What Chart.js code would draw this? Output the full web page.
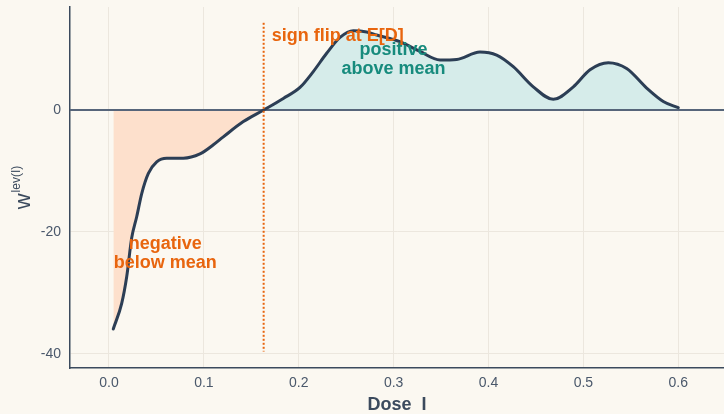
<!DOCTYPE html>
<html>
<head>
<meta charset="utf-8">
<script src="https://cdn.jsdelivr.net/npm/chart.js@4/dist/chart.umd.min.js"></script>
<style>
  html, body { margin: 0; padding: 0; background: #fbf8f1; }
  #wrap { width: 724px; height: 414px; }
</style>
</head>
<body>
<div id="wrap"><canvas id="chart" width="724" height="414"></canvas></div>
<script>
// Leverage weight w^lev(I) as a function of dose I
const dose = [0.0045, 0.0134, 0.0187, 0.0239, 0.0292, 0.0345, 0.0415, 0.0503, 0.0608, 0.0783,
              0.0959, 0.110, 0.1205, 0.1416, 0.163, 0.1837, 0.2013, 0.2153, 0.2294, 0.2435,
              0.2575, 0.2716, 0.2821, 0.3067, 0.3278, 0.3489, 0.3665, 0.391, 0.4086, 0.4261,
              0.4472, 0.4683, 0.4894, 0.507, 0.5263, 0.5456, 0.5667, 0.5842, 0.600];
const weight = [-35.9, -31.7, -27.3, -21.0, -17.5, -13.7, -10.4, -8.5, -7.9, -7.9,
                -7.2, -5.7, -4.4, -1.9, 0, 1.9, 3.7, 6.3, 9.3, 11.9,
                13.0, 12.8, 12.3, 11.2, 9.6, 8.2, 8.3, 9.5, 9.0, 7.1,
                3.8, 1.75, 3.8, 6.6, 7.75, 6.8, 3.6, 1.4, 0.38];

// Mean dose E[D], where the weight changes sign
const meanDose = 0.163;
const flipLineSpan = [-39.6, 14.3];

const xTicks = [0.0, 0.1, 0.2, 0.3, 0.4, 0.5, 0.6];
const yTicks = [-40, -20, 0];

const notes = [
  { lines: ['sign flip at E[D]'], x: 0.1715, y: 12.1, align: 'left', color: '#e8650e' },
  { lines: ['positive', 'above mean'], x: 0.2998, y: 8.25, align: 'center', color: '#178b7d' },
  { lines: ['negative', 'below mean'], x: 0.0594, y: -23.5, align: 'center', color: '#e8650e' }
];

const FONT = '"Liberation Sans", Arial, Helvetica, sans-serif';
const INK = '#3b4a5d';

const points = dose.map((d, i) => ({ x: d, y: weight[i] }));

const background = {
  id: 'background',
  beforeDraw(chart) {
    const c = chart.ctx;
    c.save();
    c.fillStyle = '#fbf8f1';
    c.fillRect(0, 0, chart.width, chart.height);
    c.restore();
  }
};

// zero reference line, drawn over the area fill and under the curve
const zeroLine = {
  id: 'zeroLine',
  beforeDatasetDraw(chart) {
    const c = chart.ctx, a = chart.chartArea;
    const y0 = chart.scales.y.getPixelForValue(0);
    c.save();
    c.strokeStyle = '#56657a';
    c.lineWidth = 2;
    c.beginPath();
    c.moveTo(a.left, y0);
    c.lineTo(a.right, y0);
    c.stroke();
    c.restore();
  }
};

const overlays = {
  id: 'overlays',
  afterDatasetsDraw(chart) {
    const c = chart.ctx, sx = chart.scales.x, sy = chart.scales.y;
    c.save();
    // dotted marker at the mean dose
    const xm = sx.getPixelForValue(meanDose);
    c.strokeStyle = '#e8650e';
    c.lineWidth = 2;
    c.setLineDash([2, 2]);
    c.beginPath();
    c.moveTo(xm, sy.getPixelForValue(flipLineSpan[1]));
    c.lineTo(xm, sy.getPixelForValue(flipLineSpan[0]));
    c.stroke();
    c.setLineDash([]);

    // text notes
    c.font = 'bold 18px ' + FONT;
    c.textBaseline = 'middle';
    notes.forEach(n => {
      const px = sx.getPixelForValue(n.x);
      const py = sy.getPixelForValue(n.y);
      const lh = 19.5;
      const top = py - (n.lines.length - 1) * lh / 2;
      c.fillStyle = n.color;
      c.textAlign = n.align;
      n.lines.forEach((t, k) => c.fillText(t, px, top + k * lh));
    });

    c.restore();
  },
  afterDraw(chart) {
    // y axis title: w with superscript lev(I)
    const c = chart.ctx, a = chart.chartArea;
    c.save();
    c.fillStyle = INK;
    c.textBaseline = 'alphabetic';
    c.textAlign = 'left';
    c.font = '22px ' + FONT;
    const wMain = c.measureText('w').width;
    c.font = '12px ' + FONT;
    const wSup = c.measureText('lev(I)').width;
    const total = wMain + 1 + wSup;
    const cy = (a.top + a.bottom) / 2;
    c.translate(30, cy + total / 2);
    c.rotate(-Math.PI / 2);
    c.font = '22px ' + FONT;
    c.fillText('w', 0, 0);
    c.font = '12px ' + FONT;
    c.fillText('lev(I)', wMain + 1, -10);
    c.restore();
  }
};

new Chart(document.getElementById('chart'), {
  type: 'line',
  data: {
    datasets: [{
      data: points,
      borderColor: '#2c3e55',
      borderWidth: 3,
      borderCapStyle: 'round',
      borderJoinStyle: 'round',
      pointRadius: 0,
      cubicInterpolationMode: 'monotone',
      fill: { target: 'origin', above: '#d6ecea', below: '#fde0cc' }
    }]
  },
  options: {
    responsive: false,
    animation: false,
    events: [],
    layout: { padding: { top: 7, right: 0, bottom: 0, left: 0 } },
    plugins: {
      legend: { display: false },
      tooltip: { enabled: false }
    },
    scales: {
      x: {
        type: 'linear',
        min: -0.0411,
        max: 0.6482,
        afterFit(s) { s.height = 46; s.paddingLeft = 0; s.paddingRight = 0; },
        afterBuildTicks(s) { s.ticks = xTicks.map(v => ({ value: v })); },
        ticks: {
          padding: 7,
          color: '#4a586b',
          font: { family: FONT, size: 14 },
          callback: v => Number(v).toFixed(1)
        },
        grid: { color: '#ece7de', lineWidth: 1, drawTicks: false },
        border: { display: true, color: INK, width: 1.5 },
        title: {
          display: true,
          text: 'Dose  I',
          color: INK,
          font: { family: FONT, size: 18, weight: 'bold', lineHeight: 1 },
          padding: { top: 0, bottom: 0 }
        }
      },
      y: {
        min: -42.3,
        max: 16.89,
        afterFit(s) { s.width = 70; s.paddingTop = 0; s.paddingBottom = 0; },
        afterBuildTicks(s) { s.ticks = yTicks.map(v => ({ value: v })); },
        ticks: {
          padding: 9,
          color: '#4a586b',
          font: { family: FONT, size: 14 },
          callback: v => String(v)
        },
        grid: { color: '#ece7de', lineWidth: 1, drawTicks: false },
        border: { display: true, color: INK, width: 1.5 }
      }
    }
  },
  plugins: [background, zeroLine, overlays]
});
</script>
</body>
</html>
